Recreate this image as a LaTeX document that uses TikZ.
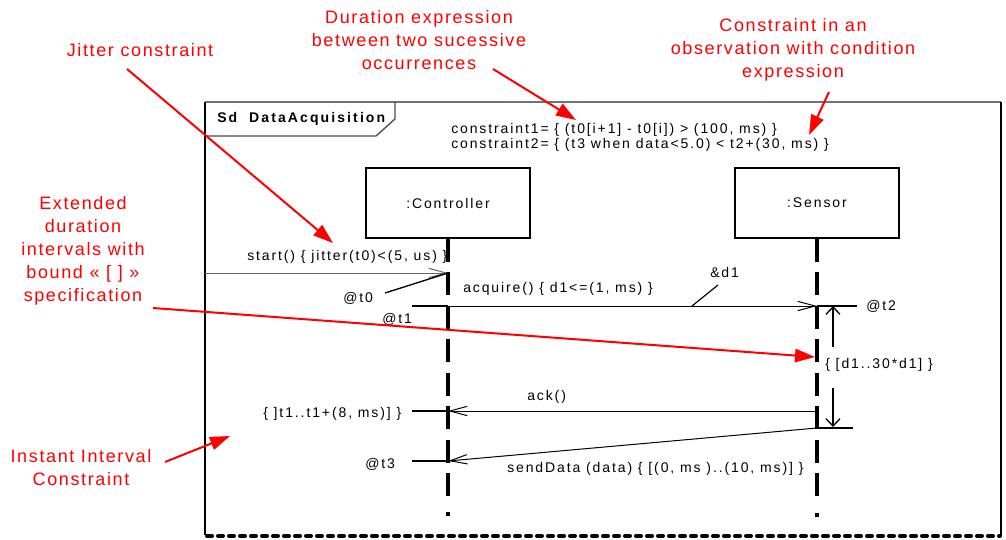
\documentclass[tikz,border=0pt]{standalone}
\usepackage{fontspec}
\setmainfont{Liberation Sans}
\newfontfamily\blk[LetterSpace=13.5]{Liberation Sans}
\newfontfamily\blkb[LetterSpace=15]{Liberation Sans}
\newfontfamily\redf[LetterSpace=9]{Liberation Sans}
\usetikzlibrary{arrows.meta}
\tikzset{
  lbl/.style={font=\blk\fontsize{10.5}{12.6}\selectfont, inner sep=0pt, anchor=base west},
  note/.style={font=\redf\fontsize{13.5}{17.25}\selectfont, text=red, align=center, inner sep=0pt},
  redarrow/.style={draw=red, line width=1.5pt, -{Triangle[length=15pt,width=10pt]}},
  msg/.style={line width=0.75pt, -{Straight Barb[length=13pt,width=7pt]}},
  darrow/.style={line width=1pt, -{Straight Barb[length=5.5pt,width=10.5pt]}},
  lifeline/.style={line width=2.6pt, dash pattern=on 17.25pt off 7.875pt},
  tick/.style={line width=1pt},
  objbox/.style={draw, line width=1pt, minimum width=123pt, minimum height=52.5pt, inner sep=0pt,
    font=\blk\fontsize{10.5}{12.6}\selectfont}
}
\begin{document}
\begin{tikzpicture}[x=0.75pt,y=-0.75pt]
\useasboundingbox (0,0) rectangle (1006,539);
% frame
\draw[line width=1pt, black!55] (205,102) -- (1001,102);
\draw[line width=1pt] (205,102) -- (205,535);
\draw[line width=1pt] (1001,102) -- (1001,535);
\draw[line width=3pt, dash pattern=on 3.75pt off 4.5pt, line cap=round] (207,536) -- (1000,536);
\draw[line width=1pt, black!70] (205,136) -- (376,136) -- (395,119) -- (395,102);
\node[lbl, font=\blkb\bfseries\fontsize{10.5}{12.6}\selectfont] (sd) at (217,122) {Sd\ \ DataAcquisition};
% constraints
\node[lbl] (c1) at (451,133) {constraint1= \{ (t0[i+1] - t0[i]) > (100, ms) \}};
\node[lbl] (c2) at (451,148) {constraint2= \{ (t3 when data<5.0) < t2+(30, ms) \}};
% objects
\node[objbox] (ctrl) at (448,203) {:Controller};
\node[objbox] (sens) at (817,203) {:Sensor};
% lifelines
\coordinate (cEnd) at (448,502);
\coordinate (sEnd) at (817,502);
\draw[lifeline] (ctrl.south) -- (cEnd);
\draw[lifeline] (sens.south) -- (sEnd);
\fill (446.3,512) rectangle (449.7,516);
\fill (815.3,513) rectangle (818.7,517);
% start message
\coordinate (sIn) at (205,273);
\coordinate (c0) at (448,273);
\draw[msg, draw=black!60] (sIn) -- (c0);
\node[lbl] (startl) at (247,260) {start() \{ jitter(t0)<(5, us) \}};
\node[lbl] (t0l) at (343,302) {@t0};
\coordinate (t0a) at (385,293);
\draw[line width=1pt] (t0a) -- (c0);
% acquire
\coordinate (t1L) at (412,306);
\coordinate (c1p) at (448,306);
\coordinate (s2) at (817,306);
\coordinate (t2R) at (857,306);
\draw[tick] (t1L) -- (c1p);
\draw[msg] (c1p) -- (s2);
\draw[tick] (s2) -- (t2R);
\node[lbl] (t1l) at (382,323) {@t1};
\node[lbl] (acq) at (463,292) {acquire() \{ d1<=(1, ms) \}};
\node[lbl] (d1l) at (710,277) {\&d1};
\coordinate (d1a) at (718,285);
\coordinate (d1b) at (692,306);
\draw[line width=0.9pt] (d1a) -- (d1b);
\node[lbl] (t2l) at (866,310) {@t2};
% duration d1
\coordinate (du1) at (833,347);
\coordinate (du0) at (833,306);
\coordinate (du2) at (833,388);
\coordinate (du3) at (833,427);
\draw[darrow] (du1) -- (du0);
\draw[darrow] (du2) -- (du3);
\node[lbl] (drange) at (825,368) {\{ [d1..30*d1] \}};
% ack
\coordinate (sAck) at (817,411);
\coordinate (cAck) at (448,411);
\coordinate (ackL) at (412,411);
\draw[msg] (sAck) -- (cAck);
\draw[tick] (cAck) -- (ackL);
\node[lbl] (ackl) at (527,400) {ack()};
\node[lbl] (t1r) at (263,417) {\{ ]t1..t1+(8, ms)] \}};
% sendData
\coordinate (sSend) at (817,428);
\coordinate (sTick) at (853,428);
\coordinate (cSend) at (448,461);
\coordinate (t3L) at (412,461);
\draw[tick] (sTick) -- (sSend);
\draw[msg] (sSend) -- (cSend);
\draw[tick] (cSend) -- (t3L);
\node[lbl] (t3l) at (365,468) {@t3};
\node[lbl] (sendl) at (507,472) {sendData (data) \{ [(0, ms )..(10, ms)] \}};
% red notes
\node[note] (njit) at (140,50) {Jitter constraint};
\node[note] (ndur) at (419,40) {Duration expression\\between two sucessive\\occurrences};
\node[note] (ncon) at (793,50) {Constraint in an\\observation with condition\\expression};
\node[note] (next) at (83,251) {Extended\\duration\\intervals with\\bound « [ ] »\\specification};
\node[note] (ninst) at (81,468) {Instant Interval\\Constraint};
\coordinate (ajA) at (127,69);  \coordinate (ajB) at (333,243);
\coordinate (adA) at (493,69);  \coordinate (adB) at (576,120);
\coordinate (acA) at (829,92);  \coordinate (acB) at (809,135);
\coordinate (aeA) at (153,308); \coordinate (aeB) at (815,357);
\coordinate (aiA) at (165,462); \coordinate (aiB) at (230,436);
\draw[redarrow] (ajA) -- (ajB);
\draw[redarrow] (adA) -- (adB);
\draw[redarrow] (acA) -- (acB);
\draw[redarrow] (aeA) -- (aeB);
\draw[redarrow] (aiA) -- (aiB);
\end{tikzpicture}
\end{document}
